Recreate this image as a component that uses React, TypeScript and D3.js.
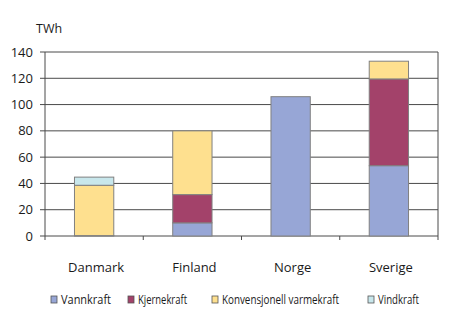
import React from "react";
import * as d3 from "d3";

const categories = ["Danmark", "Finland", "Norge", "Sverige"];
const seriesNames = ["Vannkraft", "Kjernekraft", "Konvensjonell varmekraft", "Vindkraft"];
const vannkraft = [0.3, 10, 106, 53.5];
const kjernekraft = [0, 21.5, 0, 66];
const konvensjonell = [38.3, 48.5, 0, 13.5];
const vindkraft = [6.2, 0, 0, 0];
const yTicks = [0, 20, 40, 60, 80, 100, 120, 140];
const colors = ["#97A6D6", "#A3426A", "#FEE08F", "#C8E7EC"];

const W = 450, H = 326;
const left = 45, right = 438, top = 52, bottom = 236;
const FONT = "'Open Sans', sans-serif";
const legendX = [51, 128, 212, 368];
const legendLen = [54, 53, 121, 45];

export default function App() {
  const rows = categories.map((c, i) => ({
    cat: c,
    Vannkraft: vannkraft[i],
    Kjernekraft: kjernekraft[i],
    "Konvensjonell varmekraft": konvensjonell[i],
    Vindkraft: vindkraft[i],
  }));
  const stack = d3.stack<any>().keys(seriesNames)(rows);
  const x = d3.scaleBand().domain(categories).range([left, right]).paddingInner(0.6).paddingOuter(0.3);
  const xb = d3.scaleBand().domain(categories).range([left, right]);
  const y = d3.scaleLinear().domain([0, 140]).range([bottom, top]);
  return (
    <svg width={W} height={H} style={{ position: "absolute", left: 0, top: 0 }}>
      <rect width={W} height={H} fill="#fff" />
      {yTicks.map((t) => (
        <g key={t}>
          <line x1={left - 5} x2={right} y1={y(t)} y2={y(t)} stroke="#4a4a4a" strokeWidth={1} />
          <text x={33} y={y(t) + 4.5} textAnchor="end" fontFamily={FONT} fontSize={13} fill="#1a1a1a">{t}</text>
        </g>
      ))}
      <line x1={left} x2={left} y1={top} y2={bottom} stroke="#4a4a4a" />
      <line x1={right} x2={right} y1={top} y2={bottom} stroke="#4a4a4a" />
      {categories.map((c) => (
        <line key={c} x1={(xb(c) as number) + xb.bandwidth()} x2={(xb(c) as number) + xb.bandwidth()} y1={bottom} y2={bottom + 4} stroke="#4a4a4a" />
      ))}
      <line x1={left} x2={left} y1={bottom} y2={bottom + 4} stroke="#4a4a4a" />
      {stack.map((s, si) =>
        s.map((d, i) =>
          d[1] - d[0] > 0 ? (
            <rect key={si + "-" + i} x={x(categories[i])} width={x.bandwidth()} y={y(d[1])} height={y(d[0]) - y(d[1])}
              fill={colors[si]} stroke="#808080" strokeWidth={1} />
          ) : null
        )
      )}
      <text x={36} y={33} fontFamily={FONT} fontSize={12.5} fill="#1a1a1a">TWh</text>
      {categories.map((c) => (
        <text key={c} x={(xb(c) as number) + xb.bandwidth() / 2 + 2} y={272} textAnchor="middle" fontFamily={FONT} fontSize={13} fill="#1a1a1a">{c}</text>
      ))}
      {seriesNames.map((n, i) => (
        <g key={n}>
          <rect x={legendX[i]} y={296} width={6} height={7} fill={colors[i]} stroke="#555" strokeWidth={0.8} />
          <text x={legendX[i] + 4 + 6} y={304} fontFamily={FONT} fontSize={12} fill="#1a1a1a" textLength={legendLen[i] - 4} lengthAdjust="spacingAndGlyphs">{n}</text>
        </g>
      ))}
    </svg>
  );
}
